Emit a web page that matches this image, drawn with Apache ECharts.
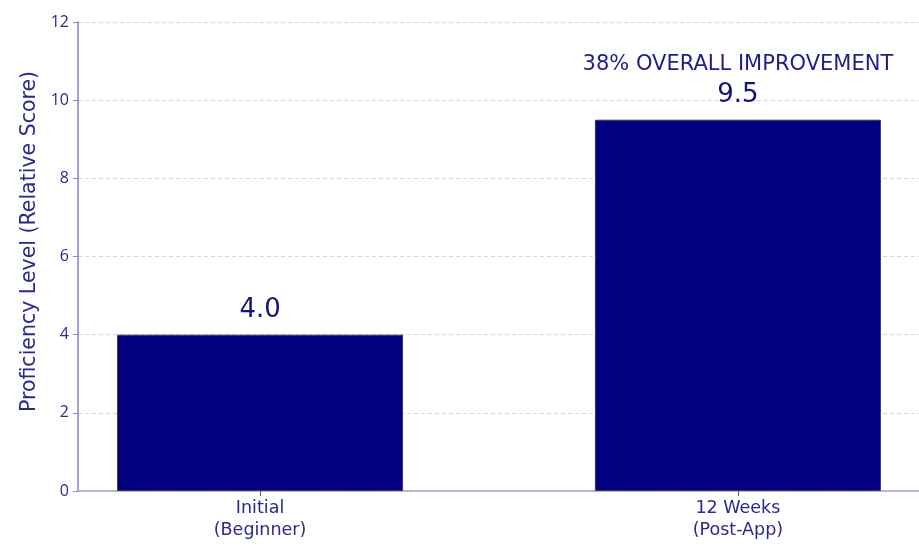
<!DOCTYPE html>
<html><head><meta charset="utf-8">
<script src="https://cdn.jsdelivr.net/npm/echarts@6/dist/echarts.min.js"></script>
<style>html,body{margin:0;padding:0;background:#fff}#c{width:919px;height:554px}</style>
</head><body><div id="c"></div>
<script>
const categories = ['Initial\n(Beginner)', '12 Weeks\n(Post-App)'];
const values = [4.0, 9.5];
const yTicks = [0, 2, 4, 6, 8, 10, 12];
const annotation = '38% OVERALL IMPROVEMENT';

const font = '"DejaVu Sans", sans-serif';
const tickFont = '"Open Sans", sans-serif';
const chart = echarts.init(document.getElementById('c'), null, {renderer: 'canvas'});
chart.setOption({
  animation: false,
  grid: {left: 78, right: 0, top: 22, bottom: 63, containLabel: false},
  xAxis: {
    type: 'value', min: -0.381, max: 1.379,
    axisLine: {show: true, onZero: false, lineStyle: {color: '#a3a3d6', width: 1.5}},
    axisTick: {show: true, customValues: [0, 1], length: 5, lineStyle: {color: '#555'}},
    axisLabel: {customValues: [0, 1], color: '#2a2a8c', fontSize: 17.5, lineHeight: 22, fontFamily: font,
      margin: 6, formatter: v => categories[Math.round(v)]},
    splitLine: {show: false}
  },
  yAxis: {
    type: 'value', min: 0, max: 12, interval: 2,
    name: 'Proficiency Level (Relative Score)', nameLocation: 'middle', nameGap: 37,
    nameTextStyle: {color: '#2a2a8c', fontSize: 20.5, fontFamily: font, padding: [0, 0, 0, 30]},
    axisLine: {show: true, onZero: false, lineStyle: {color: '#8585c8', width: 1.5}},
    axisTick: {show: true, length: 5, lineStyle: {color: '#8585c8'}},
    axisLabel: {color: '#2a2a8c', fontSize: 16, fontFamily: tickFont, margin: 9,
      formatter: v => yTicks.includes(v) ? String(v) : ''},
    splitLine: {show: true, lineStyle: {color: '#d2d2ee', type: [4, 3], width: 1}}
  },
  series: [{
    type: 'bar', barWidth: 286,
    data: values.map((v, i) => [i, v]),
    itemStyle: {color: '#000080', borderColor: '#3a3a4a', borderWidth: 1},
    label: {show: true, position: 'top', distance: 9, color: '#14147a', fontSize: 26, fontFamily: font,
      formatter: p => p.dataIndex === 1 ? '{a|' + annotation + '}\n' + p.value[1].toFixed(1) : p.value[1].toFixed(1),
      lineHeight: 30,
      rich: {a: {fontSize: 21, color: '#1e1e85', fontFamily: font, lineHeight: 33}}}
  }]
});
</script></body></html>
